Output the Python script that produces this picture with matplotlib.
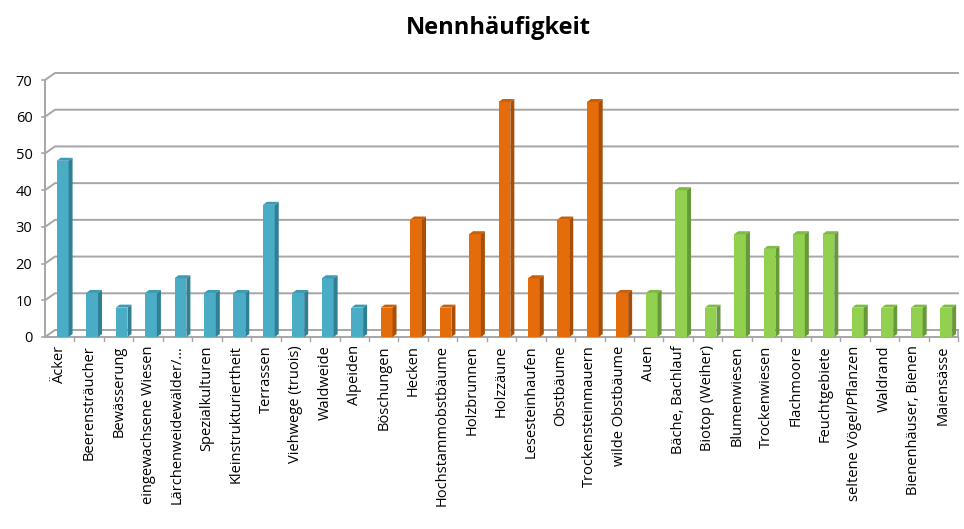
import matplotlib
matplotlib.use("Agg")
import matplotlib.pyplot as plt
from matplotlib.patches import Polygon

categories = [
    "Äcker", "Beerensträucher", "Bewässerung", "eingewachsene Wiesen",
    "Lärchenweidewälder/…", "Spezialkulturen", "Kleinstrukturiertheit",
    "Terrassen", "Viehwege (truois)", "Waldweide", "Alpeiden",
    "Böschungen", "Hecken", "Hochstammobstbäume", "Holzbrunnen", "Holzzäune",
    "Lesesteinhaufen", "Obstbäume", "Trockensteinmauern", "wilde Obstbäume",
    "Auen", "Bäche, Bachlauf", "Biotop (Weiher)", "Blumenwiesen",
    "Trockenwiesen", "Flachmoore", "Feuchtgebiete", "seltene Vögel/Pflanzen",
    "Waldrand", "Bienenhäuser, Bienen", "Maiensässe",
]
values = [48, 12, 8, 12, 16, 12, 12, 36, 12, 16, 8,
          8, 32, 8, 28, 64, 16, 32, 64, 12,
          12, 40, 8, 28, 24, 28, 28, 8, 8, 8, 8]
groups = [0] * 11 + [1] * 9 + [2] * 11

front_cols = ["#4bacc6", "#e46c0a", "#92d050"]
side_cols = ["#2f7f95", "#a84e06", "#66993a"]
top_cols = ["#3d9ab3", "#c95f08", "#7fbb44"]

fig = plt.figure(figsize=(9.64, 5.29), dpi=100)
W, H = 964, 529
ax = fig.add_axes([45 / W, 1 - 337 / H, 913 / W, 257 / H])
n = len(categories)
ax.set_xlim(-0.5, n - 0.5)
ax.set_ylim(0, 70)

# pixel -> data conversion for the pseudo-3D depth
px_x = (n) / 913.0
px_y = 70 / 257.0
gdx, gdy = 10 * px_x, 7 * px_y   # wall depth
bdx, bdy = 4 * px_x, 3 * px_y    # bar depth

grid_col = "#a6a6a6"
for yv in range(0, 71, 10):
    ax.plot([-0.5, -0.5 + gdx, n - 0.5], [yv, yv + gdy, yv + gdy],
            color=grid_col, lw=1.4, clip_on=False, zorder=1)
    ax.plot([-0.5 - 3 * px_x, -0.5], [yv, yv], color=grid_col, lw=1.2,
            clip_on=False, zorder=1)
# floor front edge and left wall edge
ax.plot([-0.5, n - 0.5], [0, 0], color=grid_col, lw=1.4, clip_on=False, zorder=1)
ax.plot([n - 0.5, n - 0.5], [0, gdy], color=grid_col, lw=1.2, clip_on=False, zorder=1)
ax.plot([-0.5, -0.5], [0, 70], color=grid_col, lw=1.4, clip_on=False, zorder=1)
for i in range(n):
    ax.plot([i + 0.5, i + 0.5], [0, -4 * px_y], color=grid_col, lw=1.0,
            clip_on=False, zorder=1)

w = 0.4
for i, (v, g) in enumerate(zip(values, groups)):
    x0 = i - w / 2 + 0.1
    x1 = x0 + w
    ax.bar(x0, v, width=w, align="edge", color=front_cols[g], zorder=3,
           edgecolor="none")
    side = Polygon([(x1, 0), (x1 + bdx, bdy), (x1 + bdx, v + bdy), (x1, v)],
                   closed=True, facecolor=side_cols[g], edgecolor="none", zorder=3)
    top = Polygon([(x0, v), (x1, v), (x1 + bdx, v + bdy), (x0 + bdx, v + bdy)],
                  closed=True, facecolor=top_cols[g], edgecolor="none", zorder=3)
    ax.add_patch(side)
    ax.add_patch(top)

for s in ax.spines.values():
    s.set_visible(False)
ax.tick_params(length=0)
ax.set_yticks(range(0, 71, 10))
ax.set_yticklabels([str(t) for t in range(0, 71, 10)], fontsize=10.5,
                   family="Open Sans")
ax.tick_params(axis="y", pad=9)
ax.set_xticks(range(n))
ax.set_xticklabels(categories, rotation=90, fontsize=10.5, family="Open Sans",
                   va="top", ha="center")
ax.tick_params(axis="x", pad=6)

fig.text(498 / W, 1 - 28 / H, "Nennhäufigkeit", ha="center", va="center",
         fontsize=17, fontweight="bold", family="Open Sans")

fig.savefig("out.png", dpi=100)
